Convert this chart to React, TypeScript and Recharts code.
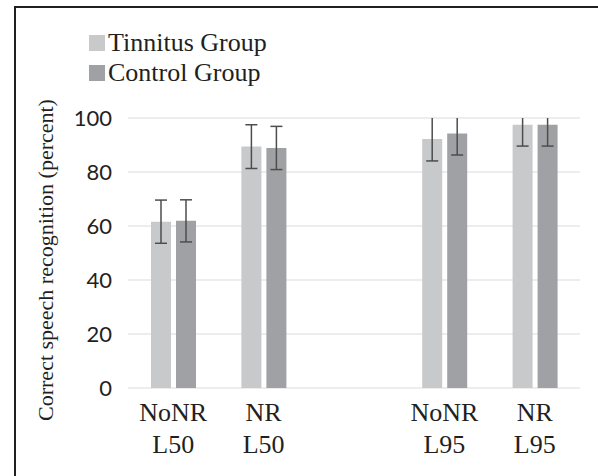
import { BarChart, Bar, XAxis, YAxis, CartesianGrid, ErrorBar, Legend } from 'recharts'

const conditions = ['NoNR', 'NR', '', 'NoNR', 'NR']
const levels = ['L50', 'L50', '', 'L95', 'L95']
const tinnitus = [61.6, 89.4, null, 92.2, 97.5]
const control = [61.9, 88.9, null, 94.3, 97.5]
const tinnitusSd = [8, 8.1, null, 8.1, 7.9]
const controlSd = [7.8, 8, null, 8, 7.9]
const yTicks = [0, 20, 40, 60, 80, 100]
const seriesOrder = ['Tinnitus Group', 'Control Group']

const COLORS = {
  tinnitus: '#c8c9cb',
  control: '#a0a1a4',
}

const data = conditions.map((c, i) => ({
  name: `${c}|${levels[i]}`,
  tinnitus: tinnitus[i],
  control: control[i],
  tinnitusSd: tinnitusSd[i],
  controlSd: controlSd[i],
}))

const SERIF = '"Liberation Serif", "Times New Roman", serif'
const TEXT = '#231f20'

function XTick({ x, y, payload }: any) {
  const [top, bottom] = String(payload.value).split('|')
  return (
    <text x={x} textAnchor="middle" fontFamily={SERIF} fontSize={26} fill={TEXT}>
      <tspan x={x} y={y + 33}>{top}</tspan>
      <tspan x={x} y={y + 64.5}>{bottom}</tspan>
    </text>
  )
}

function LegendBox({ payload }: any) {
  const items = [...(payload || [])].sort(
    (a: any, b: any) => seriesOrder.indexOf(a.value) - seriesOrder.indexOf(b.value)
  )
  return (
    <div>
      {items.map((p: any) => (
        <div key={p.value} style={{ display: 'flex', alignItems: 'center', height: 30 }}>
          <div style={{ width: 16, height: 16, background: p.color, marginRight: 3 }} />
          <span style={{ fontFamily: SERIF, fontSize: 26, color: TEXT, whiteSpace: 'nowrap' }}>{p.value}</span>
        </div>
      ))}
    </div>
  )
}

export default function App() {
  return (
    <div style={{ position: 'fixed', left: 0, top: 0, width: 598, height: 476, background: '#fff', overflow: 'hidden' }}>
      {/* frame */}
      <div
        style={{
          position: 'absolute',
          left: 14,
          top: 6,
          width: 600,
          height: 500,
          borderTop: `2px solid ${TEXT}`,
          borderLeft: `2px solid ${TEXT}`,
        }}
      />
      <div style={{ position: 'absolute', left: 0, top: 0 }}>
        <BarChart
          width={598}
          height={476}
          data={data}
          margin={{ top: 118, right: 18, bottom: 18, left: 68 }}
          barSize={20}
          barGap={5}
        >
          <CartesianGrid vertical={false} stroke="#dcdcdc" strokeWidth={1.2} />
          <XAxis
            dataKey="name"
            axisLine={false}
            tickLine={false}
            tickSize={0}
            tickMargin={0}
            height={70}
            interval={0}
            tick={<XTick />}
          />
          <YAxis
            domain={[0, 100]}
            ticks={yTicks}
            allowDataOverflow
            axisLine={false}
            tickLine={false}
            tickSize={0}
            tickMargin={16}
            width={60}
            tick={{ fontFamily: 'Lato, "Open Sans", sans-serif', fontSize: 22, fill: TEXT }}
            label={{
              content: () => (
                <text
                  x={53}
                  y={260}
                  transform="rotate(-90 53 260)"
                  textAnchor="middle"
                  fontFamily={SERIF}
                  fontSize={22}
                  fill={TEXT}
                >
                  Correct speech recognition (percent)
                </text>
              ),
            }}
          />
          <Legend
            layout="horizontal"
            verticalAlign="middle"
            align="center"
            content={<LegendBox />}
            wrapperStyle={{ top: 28, left: 89, width: 'auto', height: 'auto' }}
          />
          <Bar id="tin" dataKey="tinnitus" name="Tinnitus Group" fill={COLORS.tinnitus} isAnimationActive={false}>
            <ErrorBar dataKey="tinnitusSd" width={6} stroke="#4d4d4d" strokeWidth={1.5} clipPath="url(#clipPath-tin)" />
          </Bar>
          <Bar id="ctl" dataKey="control" name="Control Group" fill={COLORS.control} isAnimationActive={false}>
            <ErrorBar dataKey="controlSd" width={6} stroke="#4d4d4d" strokeWidth={1.5} clipPath="url(#clipPath-ctl)" />
          </Bar>
        </BarChart>
      </div>
    </div>
  )
}
